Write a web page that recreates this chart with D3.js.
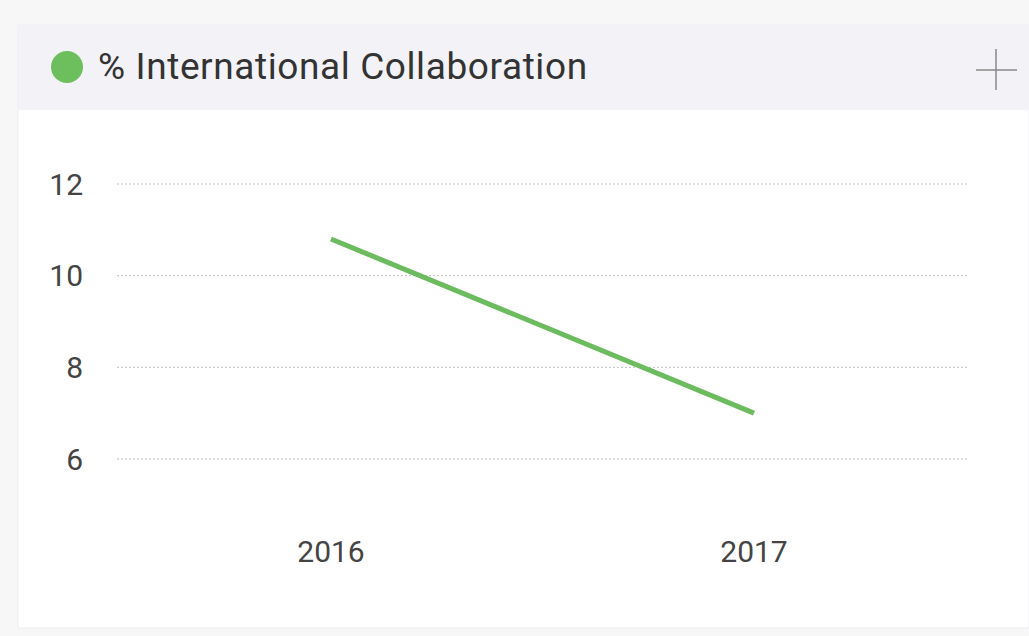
<!DOCTYPE html>
<html>
<head>
<meta charset="utf-8">
<script src="https://cdn.jsdelivr.net/npm/d3@7"></script>
<style>
  html, body { margin: 0; padding: 0; background: #f7f7f8; }
  svg { display: block; font-family: Roboto, "Noto Sans", sans-serif; }
</style>
</head>
<body>
<svg id="chart" width="1029" height="636"></svg>
<script>
// chart data
const years = ['2016', '2017']
const collab = [10.8, 7.0]
const yTicks = [6, 8, 10, 12]
const title = '% International Collaboration'

const W = 1029, H = 636
const svg = d3.select('#chart')

// panel: header strip + white body
svg.append('rect')
  .attr('x', 18).attr('y', 25).attr('width', W - 18).attr('height', 603)
  .attr('fill', '#ffffff')
  .attr('stroke', '#ededf0')
svg.append('rect')
  .attr('x', 18).attr('y', 25).attr('width', W - 18).attr('height', 85)
  .attr('fill', '#f2f2f7')

// header: dot, title, plus icon
svg.append('circle')
  .attr('cx', 67).attr('cy', 67).attr('r', 16)
  .attr('fill', '#6cbf5c')
svg.append('text')
  .attr('x', 98).attr('y', 79)
  .attr('font-size', 37)
  .attr('letter-spacing', 0.6)
  .attr('fill', '#333')
  .text(title)
const plus = svg.append('g')
  .attr('stroke', '#888').attr('stroke-width', 1.5)
plus.append('line').attr('x1', 976).attr('x2', 1017).attr('y1', 70).attr('y2', 70)
plus.append('line').attr('x1', 996).attr('x2', 996).attr('y1', 49).attr('y2', 90)

// scales
const x = d3.scalePoint()
  .domain(years)
  .range([331, 754])
const y = d3.scaleLinear()
  .domain([6, 12])
  .range([459, 184])

// gridlines
svg.append('g')
  .selectAll('line')
  .data(yTicks)
  .join('line')
    .attr('x1', 117).attr('x2', 967)
    .attr('y1', d => y(d)).attr('y2', d => y(d))
    .attr('stroke', '#bdbdbd')
    .attr('stroke-width', 1)
    .attr('stroke-dasharray', '2,2')

// y axis labels
svg.append('g')
  .selectAll('text')
  .data(yTicks)
  .join('text')
    .attr('x', 83)
    .attr('y', d => y(d))
    .attr('dy', '0.35em')
    .attr('text-anchor', 'end')
    .attr('font-size', 30)
    .attr('fill', '#444')
    .text(d => d)

// x axis labels
svg.append('g')
  .selectAll('text')
  .data(years)
  .join('text')
    .attr('x', d => x(d))
    .attr('y', 551)
    .attr('dy', '0.35em')
    .attr('text-anchor', 'middle')
    .attr('font-size', 30)
    .attr('fill', '#444')
    .text(d => d)

// the line
const line = d3.line()
  .x((d, i) => x(years[i]))
  .y(d => y(d))
svg.append('path')
  .datum(collab)
  .attr('d', line)
  .attr('fill', 'none')
  .attr('stroke', '#6cbb5e')
  .attr('stroke-width', 5)
</script>
</body>
</html>
